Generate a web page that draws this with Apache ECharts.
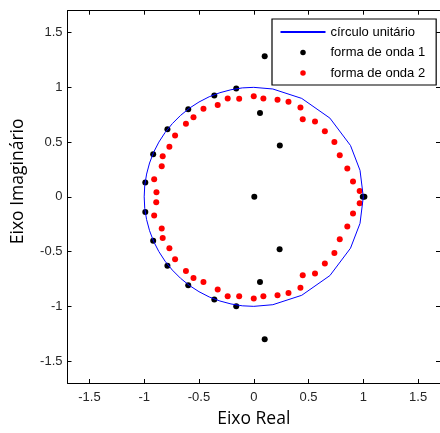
<!DOCTYPE html>
<html>
<head>
<meta charset="utf-8">
<script src="https://cdn.jsdelivr.net/npm/echarts@6/dist/echarts.min.js"></script>
<style>
html, body { margin: 0; padding: 0; background: #fff; }
#chart { width: 440px; height: 433px; }
</style>
</head>
<body>
<div id="chart"></div>
<script>
// ticks shared by both axes
var ticks = [-1.5, -1, -0.5, 0, 0.5, 1, 1.5]

// vertices of the drawn unit circle (coarse on the right side, as in the figure)
var circX = [1, 0.970, 0.883, 0.695, 0.438, 0.174, 0, -0.105, -0.208, -0.309, -0.407, -0.5, -0.588, -0.669,
  -0.743, -0.809, -0.866, -0.914, -0.951, -0.978, -0.995, -1, -0.995, -0.978, -0.951, -0.914, -0.866, -0.809,
  -0.743, -0.669, -0.588, -0.5, -0.407, -0.309, -0.208, -0.105, 0, 0.174, 0.438, 0.695, 0.883, 0.970, 1]
var circY = [0, 0.242, 0.469, 0.719, 0.899, 0.985, 1, 0.995, 0.978, 0.951, 0.914, 0.866, 0.809, 0.743,
  0.669, 0.588, 0.5, 0.407, 0.309, 0.208, 0.105, 0, -0.105, -0.208, -0.309, -0.407, -0.5, -0.588,
  -0.669, -0.743, -0.809, -0.866, -0.914, -0.951, -0.978, -0.995, -1, -0.985, -0.899, -0.719, -0.469, -0.242, 0]

// forma de onda 1
var onda1X = [-0.360, -0.598, -0.788, -0.918, -0.990, -0.990, -0.918, -0.788, -0.598, -0.360,
  -0.160, 0.100, 0.057, 0.238, 0.005, 0.995, 1.010, 0.236, 0.057, -0.160, 0.100]
var onda1Y = [0.926, 0.799, 0.618, 0.388, 0.131, -0.138, -0.400, -0.630, -0.808, -0.938,
  0.989, 1.284, 0.765, 0.469, 0, 0, 0, -0.478, -0.777, -0.998, -1.300]

// forma de onda 2
var onda2X = [-0.909, -0.888, -0.840, -0.831, -0.770, -0.718, -0.619, -0.550, -0.459, -0.329, -0.238, -0.133, 0.000,
  0.088, 0.217, 0.317, 0.426, 0.447, 0.559, 0.649, 0.736, 0.785, 0.854, 0.906, 0.967,
  -0.890, -0.909, -0.840, -0.831, -0.770, -0.718, -0.619, -0.550, -0.459, -0.329, -0.238, -0.133, 0.000,
  0.088, 0.217, 0.317, 0.426, 0.447, 0.559, 0.649, 0.736, 0.785, 0.854, 0.906, 0.967]
var onda2Y = [0.161, 0.041, 0.279, 0.370, 0.457, 0.560, 0.668, 0.726, 0.804, 0.838, 0.899, 0.895, 0.919,
  0.899, 0.886, 0.868, 0.817, 0.708, 0.687, 0.600, 0.500, 0.379, 0.258, 0.140, 0.053,
  -0.050, -0.170, -0.288, -0.376, -0.469, -0.569, -0.678, -0.741, -0.777, -0.847, -0.908, -0.908, -0.928,
  -0.908, -0.899, -0.877, -0.829, -0.717, -0.699, -0.609, -0.512, -0.388, -0.270, -0.152, -0.059]

function pairs (xs, ys) {
  var out = []
  for (var i = 0; i < xs.length; i++) out.push([xs[i], ys[i]])
  return out
}

var tickFont = { fontFamily: 'Liberation Sans', fontSize: 13, color: '#262626' }
var nameFont = { fontFamily: 'Open Sans', fontSize: 17.5, color: '#000' }

function axis (pos, shown) {
  var a = {
    type: 'value',
    position: pos,
    min: -1.7,
    max: 1.7,
    splitLine: { show: false },
    axisLine: { show: true, onZero: false, lineStyle: { color: '#000', width: 1 } },
    axisTick: { show: true, inside: true, length: 4, customValues: ticks, lineStyle: { color: '#000' } },
    axisLabel: { show: shown, customValues: ticks }
  }
  if (shown) {
    a.axisLabel = Object.assign({ show: true, customValues: ticks }, tickFont)
  }
  return a
}

var xMain = axis('bottom', true)
xMain.axisLabel.margin = 8
xMain.name = 'Eixo Real'
xMain.nameLocation = 'middle'
xMain.nameGap = 27
xMain.nameTextStyle = nameFont

var yMain = axis('left', true)
yMain.axisLabel.margin = 5
yMain.name = 'Eixo Imaginário'
yMain.nameLocation = 'middle'
yMain.nameGap = 40
yMain.nameTextStyle = Object.assign({ padding: [0, 0, 0, 31] }, nameFont)

var option = {
  animation: false,
  grid: { left: 67.5, top: 10.7, right: -2.7, bottom: 46 },
  xAxis: [xMain, axis('top', false)],
  yAxis: [yMain, axis('right', false)],
  legend: {
    orient: 'vertical',
    left: 272,
    top: 19,
    padding: [6.5, 11, 5.5, 7.5],
    itemGap: 7.5,
    itemWidth: 45,
    itemHeight: 5.5,
    align: 'left',
    backgroundColor: '#fff',
    borderColor: '#000',
    borderWidth: 1.2,
    borderRadius: 0,
    textStyle: { fontFamily: 'Liberation Sans', fontSize: 13, color: '#000' },
    data: [
      { name: 'círculo unitário', itemStyle: { opacity: 0 } },
      'forma de onda 1',
      'forma de onda 2'
    ]
  },
  series: [
    {
      name: 'círculo unitário',
      type: 'line',
      data: pairs(circX, circY),
      symbol: 'none',
      lineStyle: { color: '#0000ff', width: 1 },
      itemStyle: { color: '#0000ff' }
    },
    {
      name: 'forma de onda 1',
      type: 'scatter',
      data: pairs(onda1X, onda1Y),
      symbolSize: 6,
      itemStyle: { color: '#000', opacity: 1 }
    },
    {
      name: 'forma de onda 2',
      type: 'scatter',
      data: pairs(onda2X, onda2Y),
      symbolSize: 6,
      itemStyle: { color: '#ff0000', opacity: 1 }
    }
  ]
}

echarts.init(document.getElementById('chart')).setOption(option)
</script>
</body>
</html>
